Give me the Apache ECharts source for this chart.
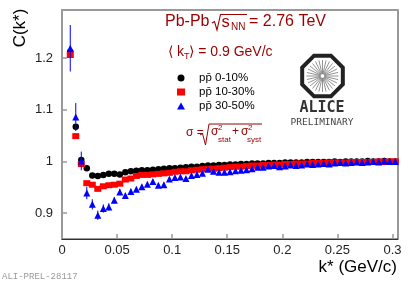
<!DOCTYPE html>
<html><head><meta charset="utf-8">
<script src="https://cdn.jsdelivr.net/npm/echarts@6/dist/echarts.min.js"></script>
<style>html,body{margin:0;padding:0;background:#fff;}#c{width:414px;height:282px;}</style>
</head><body><div id="c"></div>
<script>
var kStar = [0.0075,0.0125,0.0175,0.0225,0.0275,0.0325,0.0375,0.0425,0.0475,0.0525,
0.0575,0.0625,0.0675,0.0725,0.0775,0.0825,0.0875,0.0925,0.0975,0.1025,
0.1075,0.1125,0.1175,0.1225,0.1275,0.1325,0.1375,0.1425,0.1475,0.1525,
0.1575,0.1625,0.1675,0.1725,0.1775,0.1825,0.1875,0.1925,0.1975,0.2025,
0.2075,0.2125,0.2175,0.2225,0.2275,0.2325,0.2375,0.2425,0.2475,0.2525,
0.2575,0.2625,0.2675,0.2725,0.2775,0.2825,0.2875,0.2925,0.2975,0.3025];
var c0_10 = [1.212,1.067,1.003,0.987,0.973,0.972,0.974,0.976,0.976,0.975,
0.979,0.981,0.982,0.983,0.983,0.984,0.985,0.986,0.987,0.987,
0.988,0.989,0.990,0.990,0.991,0.992,0.992,0.993,0.993,0.994,
0.994,0.995,0.995,0.996,0.996,0.996,0.997,0.997,0.997,0.998,
0.998,0.998,0.998,0.999,0.999,0.999,0.999,0.999,1.000,0.999,
1.000,1.000,1.000,1.000,1.001,1.000,1.000,1.001,1.000,1.000];
var c10_30 = [1.206,1.049,0.995,0.958,0.955,0.947,0.952,0.954,0.955,0.957,
0.965,0.967,0.972,0.974,0.974,0.975,0.976,0.977,0.978,0.980,
0.981,0.981,0.983,0.984,0.985,0.986,0.986,0.987,0.988,0.989,
0.990,0.990,0.991,0.992,0.992,0.993,0.993,0.994,0.994,0.995,
0.995,0.996,0.996,0.996,0.997,0.997,0.997,0.998,0.998,0.998,
0.998,0.999,0.999,0.999,0.999,0.999,1.000,0.999,1.000,1.000];
var c30_50 = [1.219,1.086,1.001,0.939,0.917,0.896,0.909,0.912,0.925,0.941,
0.934,0.942,0.946,0.951,0.956,0.961,0.954,0.955,0.966,0.969,
0.970,0.967,0.973,0.975,0.977,0.985,0.981,0.979,0.979,0.980,
0.982,0.983,0.984,0.986,0.989,0.989,0.991,0.992,0.990,0.991,
0.993,0.992,0.993,0.995,0.994,0.995,0.996,0.995,0.997,0.998,
0.997,0.998,0.999,0.998,0.999,1.000,0.999,1.001,1.000,1.000];
var err30_50 = [0.045,0.027,0.018,0.012,0.010,0.009,0.008,0.007,0.006,0.006,
0.005,0.005,0.005,0.004,0.004,0.004,0.004,0.004,0.004,0.003];
var seriesNames = ['pp\u0304 0-10%','pp\u0304 10-30%','pp\u0304 30-50%'];
var xTicks = [0,0.05,0.1,0.15,0.2,0.25,0.3];
var yTicks = [0.9,1.0,1.1,1.2];

function pts(arr){ var o=[]; for(var i=0;i<arr.length;i++){ o.push([kStar[i],arr[i]]); } return o; }
function errPts(vals, errs){ var o=[]; for(var i=0;i<errs.length;i++){ o.push([kStar[i], vals[i]-errs[i], vals[i]+errs[i]]); } return o; }

var red = '#990000';
var chart = echarts.init(document.getElementById('c'), null, {renderer:'canvas'});
var FONT = 'Liberation Sans, Arial, Helvetica, sans-serif';

// ALICE logo geometry (decoration)
var cx = 322.5, cy = 76, R = 22;
var oct = [];
for (var k=0;k<8;k++){ var a=(22.5+45*k)*Math.PI/180; oct.push([cx+R*Math.cos(a), cy+R*Math.sin(a)]); }
var logoEls = [{type:'polygon', shape:{points:oct}, style:{fill:'none', stroke:'#222', lineWidth:4}}];
for (var s=0;s<28;s++){ var b=s*2*Math.PI/28; logoEls.push({type:'line', shape:{x1:cx+2*Math.cos(b), y1:cy+2*Math.sin(b), x2:cx+16*Math.cos(b), y2:cy+16*Math.sin(b)}, style:{stroke:'#777', lineWidth:0.8}}); }

function rt(x, y, text, size){ return {type:'text', x:x, y:y, style:{text:text, fontFamily:FONT, fontSize:size, fill:red, align:'left', verticalAlign:'middle'}}; }

var option = {
  animation:false,
  backgroundColor:'#fff',
  grid:{left:62, top:10, right:16, bottom:43, show:true, borderColor:'#333', borderWidth:1},
  legend:{
    orient:'vertical', left:172, top:67, itemWidth:8, itemHeight:7, itemGap:2,
    data:seriesNames, selectedMode:false,
    textStyle:{fontFamily:FONT, fontSize:11.5, color:'#000', padding:[0,0,0,9]}
  },
  xAxis:[{
    type:'value', min:0, max:0.305, position:'bottom',
    axisLine:{show:true, lineStyle:{color:'#333', width:1}},
    axisTick:{show:true, inside:true, length:5, lineStyle:{color:'#999', width:1.5}, customValues:xTicks},
    axisLabel:{customValues:xTicks, margin:5, fontFamily:FONT, fontSize:13, color:'#222'},
    splitLine:{show:false}
  },{
    type:'value', min:0, max:0.305, position:'top',
    axisLine:{show:true, lineStyle:{color:'#999', width:2}},
    axisTick:{show:false}, axisLabel:{show:false}, splitLine:{show:false}
  }],
  yAxis:{
    type:'value', min:0.85, max:1.293,
    axisLine:{show:true, lineStyle:{color:'#999', width:2}},
    axisTick:{show:true, inside:true, length:5, lineStyle:{color:'#999', width:1.5}, customValues:yTicks},
    axisLabel:{customValues:yTicks, margin:9, fontFamily:FONT, fontSize:13, color:'#222'},
    splitLine:{show:false}
  },
  series:[
    {name:seriesNames[0], type:'scatter', data:pts(c0_10), symbol:'circle', symbolSize:6.5, itemStyle:{color:'#000', opacity:1}, z:3},
    {name:seriesNames[1], type:'scatter', data:pts(c10_30), symbol:'rect', symbolSize:[7,6], itemStyle:{color:'#ff0000', opacity:1}, z:4},
    {type:'custom', data:errPts(c30_50, err30_50), z:5,
      renderItem:function(params, api){
        var p1 = api.coord([api.value(0), api.value(1)]);
        var p2 = api.coord([api.value(0), api.value(2)]);
        return {type:'line', shape:{x1:p1[0], y1:p1[1], x2:p2[0], y2:p2[1]}, style:{stroke:'#0000ff', lineWidth:1}};
      }},
    {name:seriesNames[2], type:'scatter', data:pts(c30_50), symbol:'triangle', symbolSize:7, itemStyle:{color:'#0000ff', opacity:1}, z:6}
  ],
  graphic:[
    {type:'text', x:20, y:28, rotation:Math.PI/2, style:{text:'C(k*)', fontFamily:FONT, fontSize:17, fill:'#000', align:'center', verticalAlign:'middle'}},
    {type:'text', x:397, y:267, style:{text:'k* (GeV/c)', fontFamily:FONT, fontSize:17, fill:'#000', align:'right', verticalAlign:'middle'}},
    {type:'text', x:2, y:277, style:{text:'ALI-PREL-28117', fontFamily:'Liberation Mono, monospace', fontSize:9, fill:'#999', align:'left', verticalAlign:'middle'}},
    rt(165, 22, 'Pb-Pb', 16),
    {type:'polyline', shape:{points:[[212,23],[214.5,21.5],[217,30],[220.5,14.5],[247,14.5]]}, style:{stroke:red, lineWidth:1.1, fill:'none'}},
    rt(221.5, 22.5, 's', 16.5),
    rt(231, 27, 'NN', 10),
    rt(249, 22, '= 2.76 TeV', 16),
    {type:'text', x:168, y:52, style:{
      text:'{a|\u27E8 k}{s|T}{a|\u27E9 = 0.9 GeV/c}',
      rich:{a:{fontFamily:FONT, fontSize:14, fill:red}, s:{fontFamily:FONT, fontSize:9, fill:red, padding:[9,0,0,0]}},
      align:'left', verticalAlign:'middle'}},
    rt(186, 133, '\u03C3 =', 12),
    {type:'polyline', shape:{points:[[200,135],[202.5,133.5],[205.5,145],[209,124],[262,124]]}, style:{stroke:red, lineWidth:1, fill:'none'}},
    rt(211, 132, '\u03C3', 12),
    rt(218, 128, '2', 8),
    rt(218, 140, 'stat', 8),
    rt(232, 132, '+', 12),
    rt(241, 132, '\u03C3', 12),
    rt(248, 128, '2', 8),
    rt(247, 140, 'syst', 8),
    {type:'group', children:logoEls},
    {type:'text', x:322, y:108.5, style:{text:'ALICE', fontFamily:'DejaVu Sans Mono, monospace', fontWeight:'bold', fontSize:15, fill:'#333', align:'center', verticalAlign:'middle'}},
    {type:'text', x:322, y:122.5, style:{text:'PRELIMINARY', fontFamily:'DejaVu Sans Mono, monospace', fontSize:9.5, fill:'#444', align:'center', verticalAlign:'middle'}}
  ]
};
chart.setOption(option);
</script></body></html>
